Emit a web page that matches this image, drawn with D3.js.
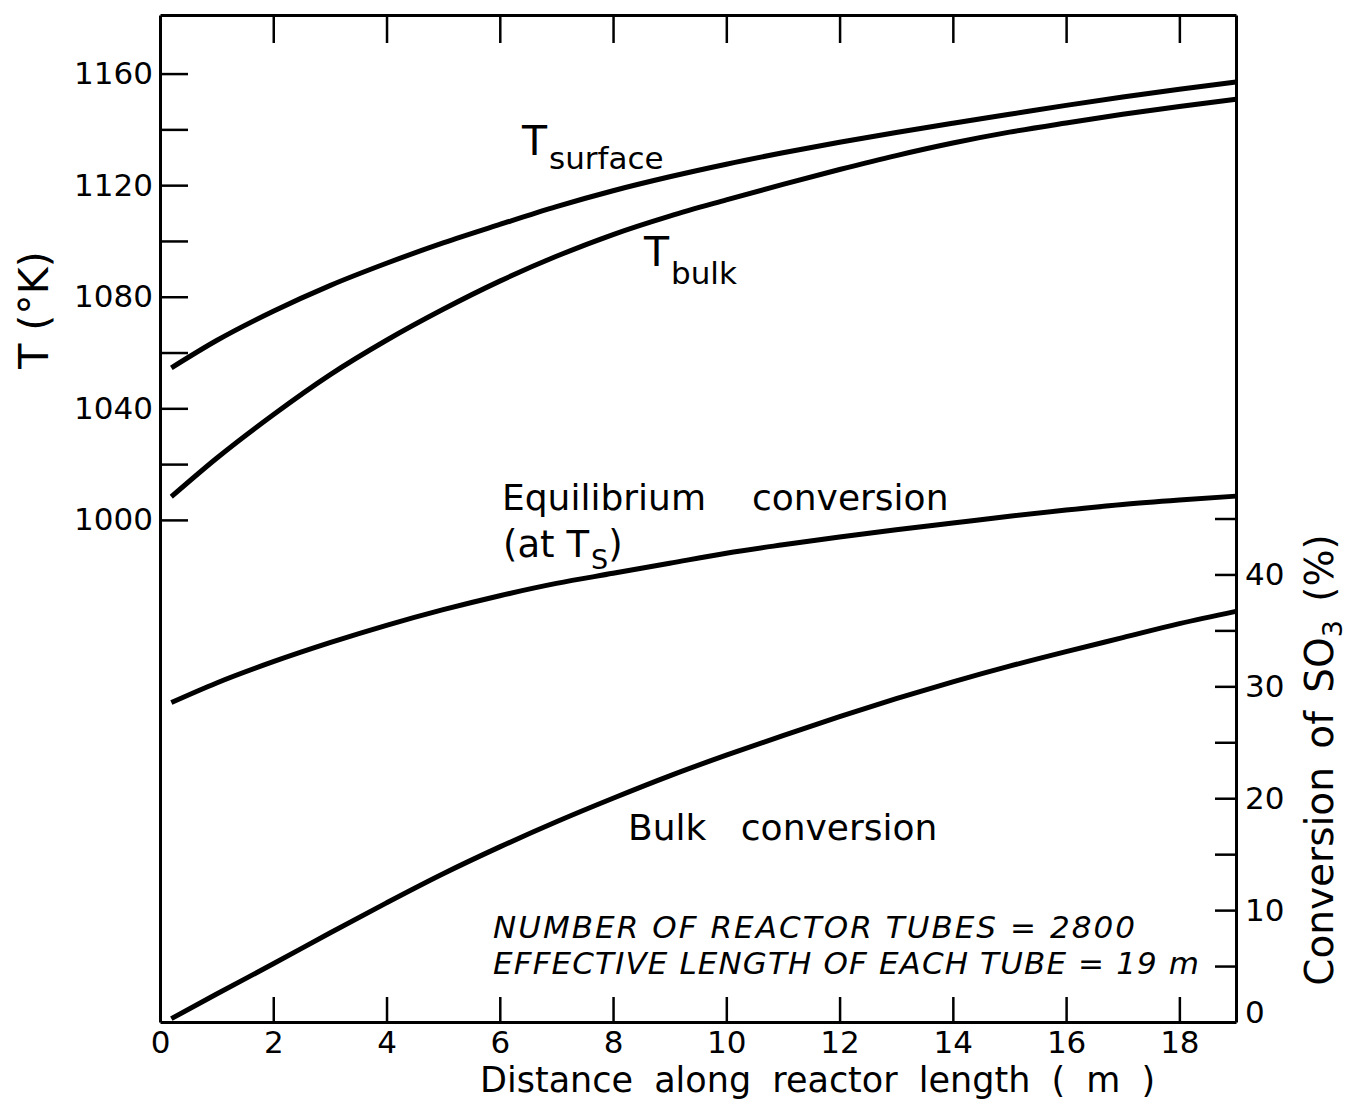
<!DOCTYPE html>
<html>
<head>
<meta charset="utf-8">
<script src="https://cdn.jsdelivr.net/npm/d3@7"></script>
<style>
  html, body { margin: 0; padding: 0; background: #fff; }
  svg { display: block; }
  text { font-family: "DejaVu Sans", sans-serif; fill: #000; }
</style>
</head>
<body>
<svg id="chart" width="1352" height="1112"></svg>
<script>
// ---- data ----
const distance = [0.2, 1, 2, 3, 4, 5, 6, 7, 8, 9, 10, 11, 12, 13, 14, 15, 16, 17, 18, 19];
const tSurface = [1054.5, 1064.3, 1074.8, 1084.0, 1092.0, 1099.3, 1105.9, 1112.3, 1118.0, 1123.0,
                  1127.5, 1131.6, 1135.4, 1138.9, 1142.2, 1145.4, 1148.6, 1151.6, 1154.4, 1157.0];
const tBulk = [1008.3, 1022.1, 1037.7, 1052.0, 1064.4, 1075.5, 1085.6, 1094.5, 1102.3, 1108.9,
               1114.7, 1120.3, 1125.6, 1130.6, 1135.1, 1139.0, 1142.3, 1145.4, 1148.2, 1150.8];
const eqConversion = [28.55, 30.3, 32.2, 33.9, 35.45, 36.85, 38.1, 39.2, 40.1, 41.0,
                      41.9, 42.65, 43.35, 44.0, 44.6, 45.2, 45.75, 46.25, 46.65, 47.0];
const bulkConversion = [0.3, 2.5, 5.2, 7.95, 10.65, 13.25, 15.65, 17.9, 20.0, 22.0,
                        23.85, 25.6, 27.3, 28.9, 30.4, 31.8, 33.1, 34.35, 35.6, 36.7];

const xTicks = [0, 2, 4, 6, 8, 10, 12, 14, 16, 18];
const tTicks = [1000, 1020, 1040, 1060, 1080, 1100, 1120, 1140, 1160];
const tLabels = [1000, 1040, 1080, 1120, 1160];
const convTicks = [0, 5, 10, 15, 20, 25, 30, 35, 40, 45];
const convLabels = [0, 10, 20, 30, 40];

const xTitle = "Distance along reactor length ( m )";
const notes = ["NUMBER OF REACTOR TUBES = 2800", "EFFECTIVE LENGTH OF EACH TUBE = 19 m"];

// ---- layout ----
const L = 160, R = 1236, T = 15, B = 1022;
const svg = d3.select("#chart");
svg.append("rect").attr("width", 1352).attr("height", 1112).attr("fill", "#fff");

const x = d3.scaleLinear().domain([0, 19]).range([L, R]);
const yT = d3.scaleLinear().domain([820, 1181]).range([B, T]);
const yC = d3.scaleLinear().domain([0, 90]).range([B, T]);

function styleAxis(g, fs) {
  g.select(".domain").attr("stroke", "#000").attr("stroke-width", 3);
  g.selectAll(".tick line").attr("stroke", "#000").attr("stroke-width", 2.5);
  g.selectAll(".tick text").attr("font-size", fs).attr("font-family", "DejaVu Sans").attr("fill", "#000");
}

// left (temperature)
const gL = svg.append("g").attr("transform", `translate(${L},0)`)
  .call(d3.axisLeft(yT).tickValues(tTicks).tickSizeInner(-28).tickSizeOuter(0).tickPadding(7)
    .tickFormat(d => tLabels.includes(d) ? d : ""));
styleAxis(gL, 31);

// right (conversion)
const gR = svg.append("g").attr("transform", `translate(${R},0)`)
  .call(d3.axisRight(yC).tickValues(convTicks).tickSizeInner(-21).tickSizeOuter(0).tickPadding(9)
    .tickFormat(d => convLabels.includes(d) ? d : ""));
styleAxis(gR, 31);
gR.selectAll(".tick text").filter(d => d === 0).attr("dy", "0.02em");

// bottom
const gB = svg.append("g").attr("transform", `translate(0,${B})`)
  .call(d3.axisBottom(x).tickValues(xTicks).tickSizeInner(-25).tickSizeOuter(0).tickPadding(9));
styleAxis(gB, 31);
gB.selectAll(".tick line").filter(d => d === 0).remove();

// top
const gT = svg.append("g").attr("transform", `translate(0,${T})`)
  .call(d3.axisTop(x).tickValues(xTicks).tickSizeInner(-28).tickSizeOuter(0).tickFormat(""));
styleAxis(gT, 31);
gT.selectAll(".tick line").filter(d => d === 0).remove();

// ---- curves ----
const lineT = d3.line().x((d, i) => x(distance[i])).y(d => yT(d)).curve(d3.curveMonotoneX);
const lineC = d3.line().x((d, i) => x(distance[i])).y(d => yC(d)).curve(d3.curveMonotoneX);
const curves = svg.append("g").attr("fill", "none").attr("stroke", "#000")
  .attr("stroke-width", 5).attr("stroke-linejoin", "round");
curves.append("path").attr("d", lineT(tSurface));
curves.append("path").attr("d", lineT(tBulk));
curves.append("path").attr("d", lineC(eqConversion));
curves.append("path").attr("d", lineC(bulkConversion));

// ---- axis titles ----
svg.append("text").attr("x", 480).attr("y", 1092).attr("font-size", 35)
  .attr("word-spacing", 10).text(xTitle);

svg.append("text").attr("transform", "translate(48,310) rotate(-90)")
  .attr("text-anchor", "middle").attr("font-size", 41).text("T (°K)");

const rt = svg.append("text").attr("transform", "translate(1333,760) rotate(-90)")
  .attr("text-anchor", "middle").attr("font-size", 39).attr("word-spacing", 6);
rt.append("tspan").text("Conversion of SO");
rt.append("tspan").attr("font-size", 27).attr("dy", 9).text("3");
rt.append("tspan").attr("dy", -9).text(" (%)");

// ---- curve labels ----
const ts = svg.append("text").attr("x", 522).attr("y", 155).attr("font-size", 41);
ts.append("tspan").text("T");
ts.append("tspan").attr("font-size", 31).attr("dy", 14).attr("dx", 2).text("surface");

const tb = svg.append("text").attr("x", 644).attr("y", 266).attr("font-size", 41);
tb.append("tspan").text("T");
tb.append("tspan").attr("font-size", 31).attr("dy", 18).attr("dx", 2).text("bulk");

const eq = svg.append("text").attr("x", 502).attr("y", 510).attr("font-size", 36);
eq.append("tspan").text("Equilibrium");
eq.append("tspan").attr("dx", 46).text("conversion");

const at = svg.append("text").attr("x", 503).attr("y", 557).attr("font-size", 37);
at.append("tspan").text("(at T");
at.append("tspan").attr("font-size", 27).attr("dy", 12).attr("dx", 2).text("S");
at.append("tspan").attr("dy", -12).text(")");

const bc = svg.append("text").attr("x", 628).attr("y", 840).attr("font-size", 36);
bc.append("tspan").text("Bulk");
bc.append("tspan").attr("dx", 23).text(" conversion");

// ---- notes ----
svg.append("text").attr("x", 493).attr("y", 938).attr("font-size", 31)
  .attr("font-style", "italic").attr("textLength", 642).attr("lengthAdjust", "spacing").text(notes[0]);
svg.append("text").attr("x", 493).attr("y", 974).attr("font-size", 31)
  .attr("font-style", "italic").attr("textLength", 706).attr("lengthAdjust", "spacing").text(notes[1]);
</script>
</body>
</html>
